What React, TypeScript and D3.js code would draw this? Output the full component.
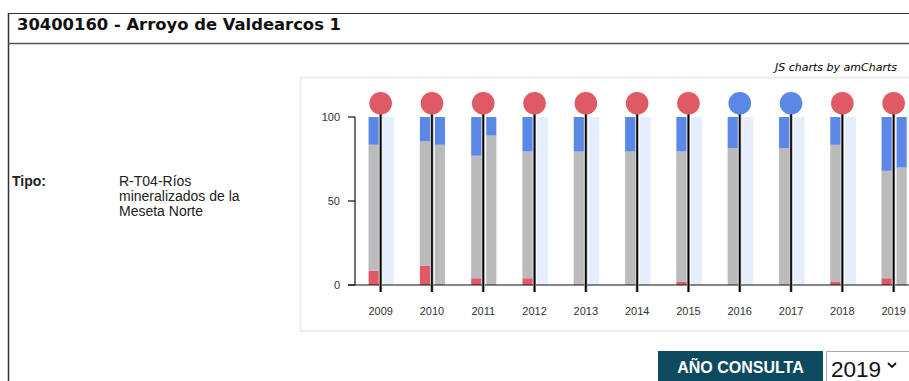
import React from "react";
import * as d3 from "d3";

const years = ["2009", "2010", "2011", "2012", "2013", "2014", "2015", "2016", "2017", "2018", "2019"];
// first column (stacked: red bottom, gray middle, blue top)
const redA = [8.5, 11.5, 4, 4, 0, 0, 2, 0, 0, 2, 4];
const grayA = [75, 74, 73, 75.5, 79.5, 79.5, 77.5, 81.5, 81.5, 81.5, 64];
const blueA = [16.5, 14.5, 23, 20.5, 20.5, 20.5, 20.5, 18.5, 18.5, 16.5, 32];
// second column (null = empty)
const grayB: (number | null)[] = [null, 83.5, 89, null, null, null, null, null, null, null, 70];
const blueB: (number | null)[] = [null, 16.5, 11, null, null, null, null, null, null, null, 30];
// status circle
const status = ["bad", "bad", "bad", "bad", "bad", "bad", "bad", "good", "good", "bad", "bad"];
const yTicks = [0, 50, 100];

const RED = "#e05a65";
const BLUE = "#5b87e6";
const GRAY = "#bbbbbb";
const LIGHT = "#e6eefd";

export default function App() {
  const x = d3.scaleBand<string>().domain(years).range([355, 355 + years.length * 51.3]).padding(0);
  const y = d3.scaleLinear().domain([0, 100]).range([285, 117]);
  const cx = (yr: string) => (x(yr) as number) + x.bandwidth() / 2;

  const stackA = years.map((yr, i) => {
    const segs = [
      { v0: 0, v1: redA[i], c: RED },
      { v0: redA[i], v1: redA[i] + grayA[i], c: GRAY },
      { v0: redA[i] + grayA[i], v1: redA[i] + grayA[i] + blueA[i], c: BLUE },
    ];
    return segs.filter((s) => s.v1 > s.v0);
  });
  const stackB = years.map((yr, i) => {
    if (grayB[i] == null) return [];
    const g = grayB[i] as number;
    const b = (blueB[i] as number) || 0;
    return [
      { v0: 0, v1: g, c: GRAY },
      { v0: g, v1: g + b, c: BLUE },
    ];
  });

  const sans = "Arial, 'Liberation Sans', sans-serif";
  const verd = "'DejaVu Sans', Verdana, sans-serif";

  return (
    <svg width={909} height={381} style={{ position: "absolute", left: 0, top: 0, background: "#fff" }}>
      {/* page frame */}
      <line x1={8} y1={13.5} x2={909} y2={13.5} stroke="#333" strokeWidth={1} />
      <line x1={8.5} y1={13} x2={8.5} y2={381} stroke="#333" strokeWidth={1.5} />
      <line x1={8} y1={43.5} x2={909} y2={43.5} stroke="#555" strokeWidth={1.5} />
      <text x={17} y={30} fontFamily={verd} fontWeight="bold" fontSize={16} fill="#111" textLength={324} lengthAdjust="spacingAndGlyphs">
        30400160 - Arroyo de Valdearcos 1
      </text>

      {/* Tipo */}
      <text x={12} y={186} fontFamily={sans} fontWeight="bold" fontSize={14} fill="#222">Tipo:</text>
      <text fontFamily={sans} fontSize={14} fill="#222">
        <tspan x={119} y={186}>R-T04-Ríos</tspan>
        <tspan x={119} y={201}>mineralizados de la</tspan>
        <tspan x={119} y={216}>Meseta Norte</tspan>
      </text>

      {/* chart box */}
      <rect x={300.5} y={77.5} width={640} height={253.5} fill="#fff" stroke="#e8e8e8" strokeWidth={1.5} />
      <text x={775} y={71} fontFamily={verd} fontStyle="italic" fontSize={11} fill="#000">JS charts by amCharts</text>

      {/* columns */}
      {years.map((yr, i) => {
        const c = cx(yr);
        return (
          <g key={yr}>
            <rect x={c - 12.5} y={y(100)} width={11} height={y(0) - y(100)} fill={LIGHT} />
            <rect x={c + 2.5} y={y(100)} width={11} height={y(0) - y(100)} fill={LIGHT} />
            {stackA[i].map((s, k) => (
              <rect key={"a" + k} x={c - 12} y={y(s.v1)} width={10} height={y(s.v0) - y(s.v1)} fill={s.c} />
            ))}
            {stackB[i].map((s, k) => (
              <rect key={"b" + k} x={c + 3} y={y(s.v1)} width={10} height={y(s.v0) - y(s.v1)} fill={s.c} />
            ))}
          </g>
        );
      })}

      {/* axes */}
      <line x1={355} y1={y(100)} x2={355} y2={y(0)} stroke="#111" strokeWidth={1.2} />
      {yTicks.map((t) => (
        <g key={t}>
          <line x1={348} y1={y(t)} x2={355} y2={y(t)} stroke="#111" strokeWidth={1.2} />
          <text x={340} y={y(t) + 4} textAnchor="end" fontFamily={sans} fontSize={11} fill="#333">{t}</text>
        </g>
      ))}
      <line x1={348} y1={y(0)} x2={940} y2={y(0)} stroke="#111" strokeWidth={1.2} />

      {years.map((yr, i) => {
        const c = cx(yr);
        return (
          <g key={"m" + yr}>
            <line x1={c} y1={y(100) - 3} x2={c} y2={292} stroke="#999" strokeWidth={3} />
            <line x1={c} y1={y(100) - 3} x2={c} y2={292} stroke="#000" strokeWidth={1.6} />
            <circle cx={c} cy={103.3} r={11.3} fill={status[i] === "good" ? BLUE : RED} />
            <text x={c} y={315} textAnchor="middle" fontFamily={sans} fontSize={11} fill="#333">{yr}</text>
          </g>
        );
      })}

      {/* controls */}
      <rect x={658} y={351} width={165} height={35} fill="#0c4a5f" />
      <text x={740.5} y={373} textAnchor="middle" fontFamily={sans} fontWeight="bold" fontSize={16} fill="#fff">AÑO CONSULTA</text>
      <rect x={826.5} y={351.5} width={100} height={35} fill="#fff" stroke="#aaa" strokeWidth={1} />
      <text x={831} y={377} fontFamily={sans} fontSize={22.5} fill="#111">2019</text>
      <path d="M888,363 L892,367 L896,363" fill="none" stroke="#111" strokeWidth={1.8} />
    </svg>
  );
}
